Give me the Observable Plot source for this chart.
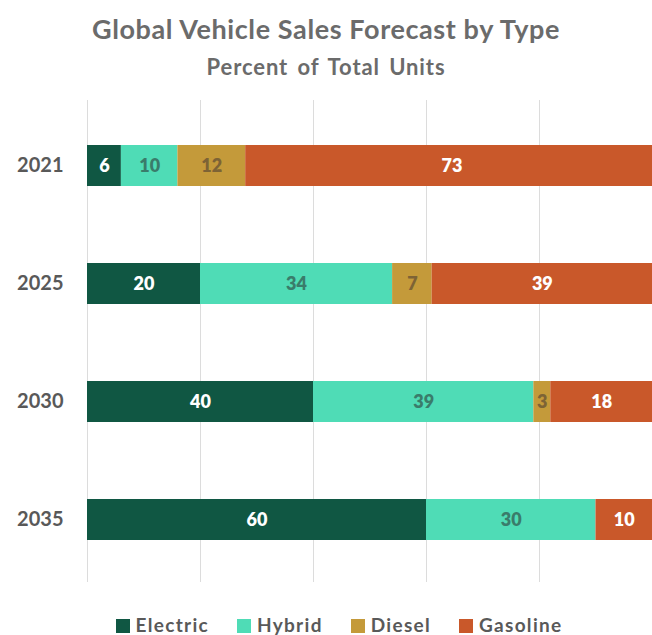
<!DOCTYPE html>
<html>
<head>
<meta charset="utf-8">
<script src="https://cdn.jsdelivr.net/npm/d3@7"></script>
<script src="https://cdn.jsdelivr.net/npm/@observablehq/plot@0.6"></script>
<style>
  html, body { margin: 0; padding: 0; background: #fff; }
  body { width: 652px; font-family: Lato, "Open Sans", sans-serif; }
  .title { margin-top: 12px; height: 34px; line-height: 34px; text-align: center; font-size: 27px; font-weight: 700; color: #6b6b6b; letter-spacing: 0.6px; }
  .subtitle { margin-top: 8px; height: 26px; line-height: 26px; text-align: center; font-size: 22px; font-weight: 700; color: #6b6b6b; letter-spacing: 0.9px; word-spacing: 3px; }
  #chart svg { display: block; }
  .legend { margin-top: 21px; height: 24px; line-height: 24px; text-align: center; font-size: 19px; font-weight: 700; color: #595959; white-space: nowrap; letter-spacing: 1.3px; padding-left: 26px; }
  .legend span.item { margin: 0 14px; }
  .legend span.sw { display: inline-block; width: 14px; height: 14px; margin-right: 6px; vertical-align: -1px; }
</style>
</head>
<body>
<div class="title">Global Vehicle Sales Forecast by Type</div>
<div class="subtitle">Percent of Total Units</div>
<div id="chart"></div>
<div class="legend" id="legend"></div>
<script>
const years = ["2021", "2025", "2030", "2035"];
const types = ["Electric", "Hybrid", "Diesel", "Gasoline"];
const electric = [6, 20, 40, 60];
const hybrid = [10, 34, 39, 30];
const diesel = [12, 7, 3, 0];
const gasoline = [73, 39, 18, 10];
const xTicks = [0, 20, 40, 60, 80, 100];

const fillColors = { Electric: "#105743", Hybrid: "#4fdcb6", Diesel: "#c49a3a", Gasoline: "#c9582a" };
const labelColors = { Electric: "#ffffff", Hybrid: "#3a7c6b", Diesel: "#7d6335", Gasoline: "#ffffff" };

const series = { Electric: electric, Hybrid: hybrid, Diesel: diesel, Gasoline: gasoline };
const data = [];
years.forEach((y, i) => {
  types.forEach(t => data.push({ year: y, type: t, value: series[t][i] }));
});

const chart = Plot.plot({
  width: 652,
  height: 512,
  marginLeft: 87,
  marginRight: 0,
  marginTop: 20,
  marginBottom: 10,
  style: { fontFamily: "Lato, 'Open Sans', sans-serif", background: "#fff" },
  x: { domain: [0, 100], axis: null },
  y: { domain: years, paddingInner: 0.655, paddingOuter: 0.3275, insetTop: 5, insetBottom: 2, label: null },
  color: { type: "identity" },
  marks: [
    Plot.ruleX(xTicks, { stroke: "#dcdcdc", strokeWidth: 1 }),
    Plot.barX(data, Plot.stackX({
      x: "value", y: "year", z: "type", order: types,
      fill: d => fillColors[d.type]
    })),
    Plot.text(data.filter(d => d.value > 0), Plot.stackX({
      x: "value", y: "year", z: "type", order: types,
      text: d => String(d.value),
      fill: d => labelColors[d.type],
      fontSize: 18, fontWeight: 800
    })),
    Plot.axisY({ tickSize: 0, tickPadding: 24, fontSize: 20, fontWeight: 700, color: "#595959", label: null })
  ]
});
document.getElementById("chart").appendChild(chart);

const legend = document.getElementById("legend");
types.forEach(t => {
  const item = document.createElement("span");
  item.className = "item";
  const sw = document.createElement("span");
  sw.className = "sw";
  sw.style.background = fillColors[t];
  item.appendChild(sw);
  item.appendChild(document.createTextNode(t));
  legend.appendChild(item);
});
</script>
</body>
</html>
